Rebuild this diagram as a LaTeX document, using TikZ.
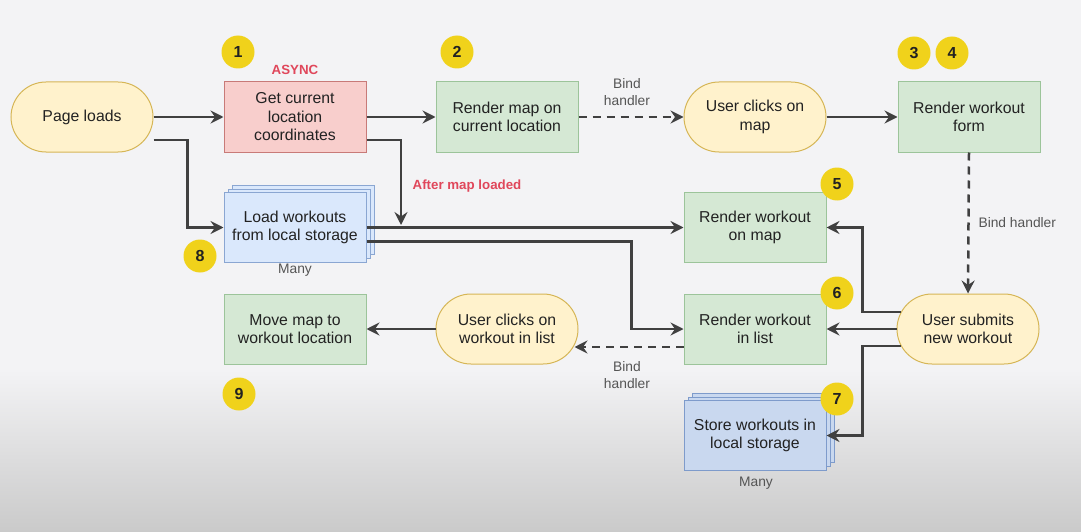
\documentclass[tikz,border=0pt]{standalone}
\usepackage{fontspec}
\setmainfont{Liberation Sans}
\usetikzlibrary{calc,arrows.meta}
\definecolor{bgc}{HTML}{F3F3F5}
\definecolor{bgdark}{HTML}{CACACA}
\definecolor{txt}{HTML}{222222}
\definecolor{yfill}{HTML}{FFF2CC}
\definecolor{yline}{HTML}{D6B656}
\definecolor{gfill}{HTML}{D5E8D4}
\definecolor{gline}{HTML}{9CC49A}
\definecolor{rfill}{HTML}{F8CECC}
\definecolor{rline}{HTML}{C87A78}
\definecolor{bfill}{HTML}{DAE8FC}
\definecolor{bline}{HTML}{8AA6D2}
\definecolor{bfilld}{HTML}{C9D8EF}
\definecolor{blined}{HTML}{7E9BCB}
\definecolor{badge}{HTML}{F0D21B}
\definecolor{arrc}{HTML}{404040}
\definecolor{redlab}{HTML}{E0475B}
\definecolor{greylab}{HTML}{555555}
\tikzset{
  base/.style={draw, line width=1pt, minimum width=142pt, minimum height=70pt,
    align=center, font=\fontsize{15.8}{18.5}\selectfont, text=txt, inner sep=2pt},
  term/.style={base, rounded corners=35pt, fill=yfill, draw=yline},
  gbox/.style={base, fill=gfill, draw=gline},
  rbox/.style={base, fill=rfill, draw=rline},
  bbox/.style={base, fill=bfill, draw=bline},
  bboxd/.style={base, fill=bfilld, draw=blined},
  stackl/.style={fill=bfill, draw=bline, line width=1pt},
  stackd/.style={fill=bfilld, draw=blined, line width=1pt},
  num/.style={circle, fill=badge, minimum size=33pt, inner sep=0pt,
    font=\fontsize{16}{16}\selectfont\bfseries, text=txt},
  arr/.style={draw=arrc, line width=2.5pt, -{Stealth[length=13pt,width=13pt,inset=4.5pt]}},
  darr/.style={arr, dash pattern=on 8pt off 6pt},
  lab/.style={font=\fontsize{13.8}{17}\selectfont, text=greylab, align=center},
  rlab/.style={font=\fontsize{13.3}{15}\selectfont\bfseries, text=redlab}
}
\begin{document}
\begin{tikzpicture}[x=1pt,y=-1pt]
\useasboundingbox (0,0) rectangle (1081,532);
\fill[bgc] (0,0) rectangle (1081,532);
\shade[top color=bgc, bottom color=bgdark] (0,370) rectangle (1081,532);

% stacked back copies
\foreach \d in {8,4}{
  \draw[stackl] (224+\d,193-\d) rectangle (366+\d,262-\d);
  \draw[stackd] (684+\d,401-\d) rectangle (826+\d,470-\d);
}

% nodes
\node[term] (pl) at (82,117) {Page loads};
\node[rbox] (gl) at (295,117) {Get current\\location\\coordinates};
\node[gbox] (rm) at (507,117) {Render map on\\current location};
\node[term] (uc) at (755,117) {User clicks on\\map};
\node[gbox] (rf) at (969,117) {Render workout\\form};
\node[bbox] (lw) at (295,227.5) {Load workouts\\from local storage};
\node[gbox] (ro) at (755,227.5) {Render workout\\on map};
\node[gbox] (mm) at (295,329) {Move map to\\workout location};
\node[term] (uw) at (507,329) {User clicks on\\workout in list};
\node[gbox] (rl) at (755,329) {Render workout\\in list};
\node[term] (us) at (968,329) {User submits\\new workout};
\node[bboxd] (st) at (755,435.5) {Store workouts in\\local storage};

% labels
\node[rlab] (async) at (295,70) {ASYNC};
\node[rlab] (aml) at (467,186) {After map loaded};
\node[lab] (bh1) at (627,92) {Bind\\handler};
\node[lab, anchor=west] (bh2) at (975,223) {Bind handler};
\node[lab] (bh3) at (627,375) {Bind\\handler};
\node[lab] (many1) at (295,270) {Many};
\node[lab] (many2) at (756,483) {Many};

% connectors
\coordinate (amp) at (401,225);
\draw[arr] (pl.east) -- (gl.west);
\draw[arr] ($(pl.east)+(0,23)$) -| ($(lw.west)+(-36,0)$) -- (lw.west);
\draw[arr] (gl.east) -- (rm.west);
\draw[arr] ($(gl.east)+(0,23)$) -| (amp);
\draw[darr] (rm.east) -- (uc.west);
\draw[arr] (uc.east) -- (rf.west);
\draw[darr] (rf.south) -- (us.north);
\draw[arr] (lw.east) -- (ro.west);
\draw[arr] ($(lw.east)+(0,14)$) -| ($(rl.west)+(-52,0)$) -- (rl.west);
\draw[arr] ($(us.west)+(4,-17)$) -| ($(ro.east)+(36,0)$) -- (ro.east);
\draw[arr] (us.west) -- (rl.east);
\draw[arr] ($(us.west)+(4,17)$) -| ($(st.east)+(36,0)$) -- (st.east);
\draw[darr] ($(rl.west)+(0,18)$) -- ($(uw.east)+(-4,18)$);
\draw[arr] (uw.west) -- (mm.east);

% badges
\node[num] (n1) at (238,52) {1};
\node[num] (n2) at (457,52) {2};
\node[num] (n3) at (914,53) {3};
\node[num] (n4) at (952,53) {4};
\node[num] (n5) at (837,184) {5};
\node[num] (n6) at (837,293) {6};
\node[num] (n7) at (837,399) {7};
\node[num] (n8) at (200,256) {8};
\node[num] (n9) at (239,394) {9};
\end{tikzpicture}
\end{document}
